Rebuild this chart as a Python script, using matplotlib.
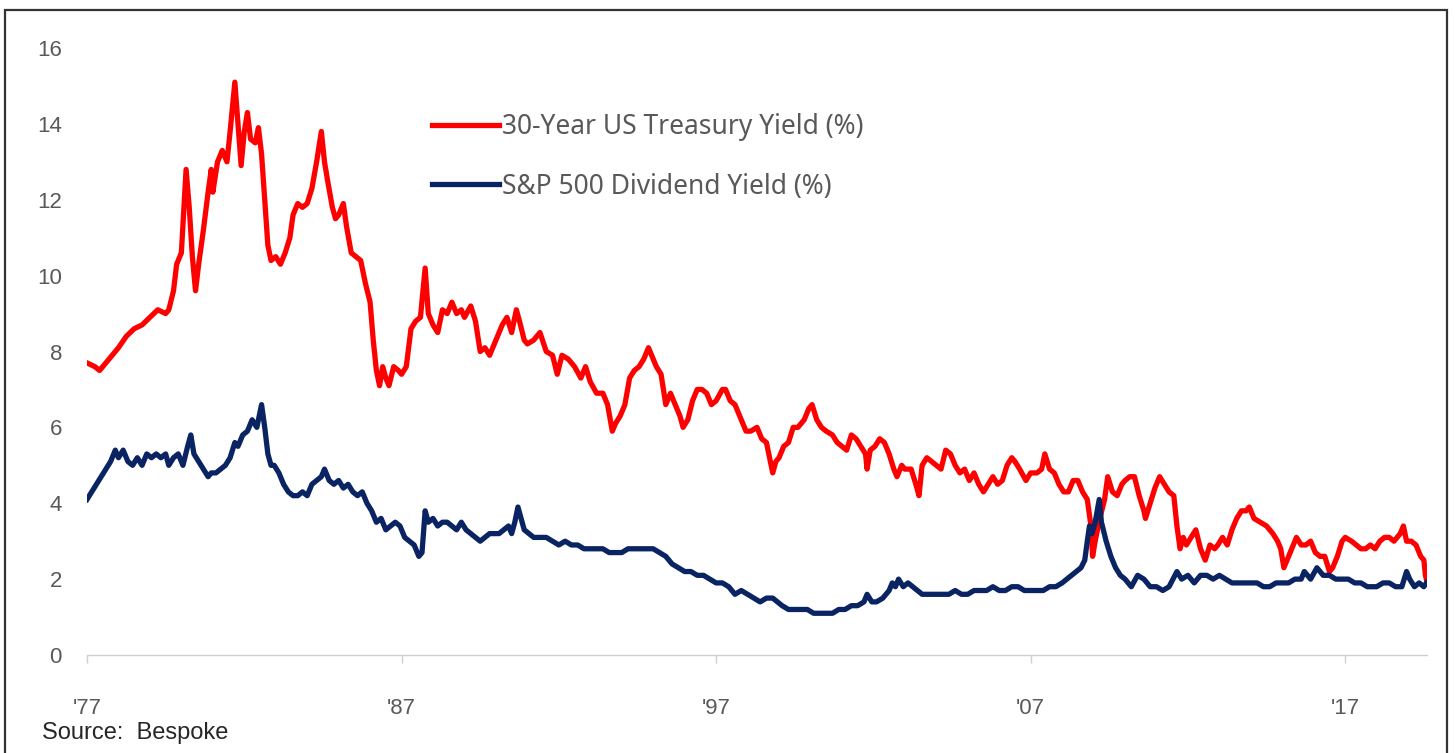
import matplotlib
matplotlib.use("Agg")
import matplotlib.pyplot as plt
from matplotlib.patches import Rectangle

# 30-year US Treasury yield (%) (decimal years)
treasury_dates = [
    1977.0, 1977.25, 1977.4, 1977.6, 1977.8, 1978.0, 1978.25, 1978.5, 1978.75, 1979.0,
    1979.25, 1979.5, 1979.6, 1979.75, 1979.85, 1980.0, 1980.15, 1980.25, 1980.35, 1980.45,
    1980.55, 1980.7, 1980.85, 1980.95, 1981.0, 1981.15, 1981.3, 1981.45, 1981.55, 1981.7,
    1981.8, 1981.9, 1982.0, 1982.1, 1982.2, 1982.35, 1982.45, 1982.55, 1982.65, 1982.75,
    1982.85, 1983.0, 1983.15, 1983.3, 1983.45, 1983.55, 1983.7, 1983.85, 1984.0, 1984.15,
    1984.3, 1984.45, 1984.55, 1984.65, 1984.8, 1984.9, 1985.0, 1985.15, 1985.25, 1985.4,
    1985.55, 1985.7, 1985.85, 1986.0, 1986.1, 1986.2, 1986.3, 1986.4, 1986.5, 1986.6,
    1986.75, 1986.9, 1987.0, 1987.15, 1987.3, 1987.45, 1987.6, 1987.75, 1987.85, 1988.0,
    1988.15, 1988.3, 1988.45, 1988.6, 1988.75, 1988.9, 1989.0, 1989.2, 1989.35, 1989.5,
    1989.65, 1989.8, 1990.0, 1990.2, 1990.35, 1990.5, 1990.65, 1990.75, 1990.9, 1991.0,
    1991.2, 1991.4, 1991.6, 1991.8, 1991.95, 1992.1, 1992.3, 1992.5, 1992.7, 1992.85,
    1993.0, 1993.2, 1993.4, 1993.55, 1993.7, 1993.8, 1993.95, 1994.1, 1994.25, 1994.4,
    1994.55, 1994.7, 1994.85, 1994.95, 1995.1, 1995.25, 1995.4, 1995.55, 1995.7, 1995.85,
    1995.95, 1996.1, 1996.25, 1996.4, 1996.55, 1996.7, 1996.85, 1997.0, 1997.2, 1997.3,
    1997.45, 1997.6, 1997.8, 1997.95, 1998.1, 1998.3, 1998.45, 1998.6, 1998.75, 1998.8,
    1998.9, 1999.0, 1999.15, 1999.3, 1999.45, 1999.6, 1999.8, 1999.95, 2000.05, 2000.2,
    2000.35, 2000.5, 2000.7, 2000.85, 2001.0, 2001.15, 2001.3, 2001.45, 2001.6, 2001.75,
    2001.8, 2001.9, 2002.05, 2002.2, 2002.35, 2002.5, 2002.65, 2002.75, 2002.9, 2003.0,
    2003.2, 2003.35, 2003.45, 2003.55, 2003.7, 2003.85, 2004.0, 2004.15, 2004.3, 2004.45,
    2004.6, 2004.75, 2004.9, 2005.05, 2005.2, 2005.35, 2005.5, 2005.65, 2005.8, 2005.95,
    2006.1, 2006.25, 2006.4, 2006.5, 2006.65, 2006.85, 2007.0, 2007.2, 2007.35, 2007.45,
    2007.6, 2007.75, 2007.9, 2008.05, 2008.2, 2008.35, 2008.5, 2008.65, 2008.8, 2008.9,
    2008.97, 2009.05, 2009.2, 2009.35, 2009.45, 2009.6, 2009.75, 2009.9, 2010.0, 2010.15,
    2010.3, 2010.45, 2010.6, 2010.65, 2010.8, 2010.95, 2011.1, 2011.25, 2011.4, 2011.55,
    2011.65, 2011.75, 2011.85, 2011.95, 2012.1, 2012.25, 2012.4, 2012.55, 2012.7, 2012.85,
    2012.95, 2013.1, 2013.25, 2013.4, 2013.55, 2013.7, 2013.85, 2013.95, 2014.1, 2014.3,
    2014.5, 2014.7, 2014.85, 2014.95, 2015.05, 2015.2, 2015.35, 2015.45, 2015.6, 2015.75,
    2015.9, 2016.05, 2016.2, 2016.35, 2016.5, 2016.6, 2016.75, 2016.9, 2017.0, 2017.2,
    2017.35, 2017.5, 2017.65, 2017.8, 2017.95, 2018.1, 2018.25, 2018.4, 2018.55, 2018.75,
    2018.85, 2018.95, 2019.1, 2019.25, 2019.4, 2019.5, 2019.55, 2019.58,
]
treasury_yield = [
    7.7, 7.6, 7.5, 7.7, 7.9, 8.1, 8.4, 8.6, 8.7, 8.9,
    9.1, 9.0, 9.1, 9.6, 10.3, 10.6, 12.8, 11.8, 10.5, 9.6,
    10.3, 11.2, 12.2, 12.8, 12.2, 13.0, 13.3, 13.0, 13.8, 15.1,
    14.0, 12.9, 13.8, 14.3, 13.6, 13.5, 13.9, 13.2, 12.0, 10.8,
    10.4, 10.5, 10.3, 10.6, 11.0, 11.6, 11.9, 11.8, 11.9, 12.3,
    13.0, 13.8, 13.0, 12.5, 11.8, 11.5, 11.6, 11.9, 11.3, 10.6,
    10.5, 10.4, 9.8, 9.3, 8.3, 7.5, 7.1, 7.6, 7.3, 7.1,
    7.6, 7.5, 7.4, 7.6, 8.6, 8.8, 8.9, 10.2, 9.0, 8.7,
    8.5, 9.1, 9.0, 9.3, 9.0, 9.1, 8.9, 9.2, 8.8, 8.0,
    8.1, 7.9, 8.3, 8.7, 8.9, 8.5, 9.1, 8.8, 8.3, 8.2,
    8.3, 8.5, 8.0, 7.9, 7.4, 7.9, 7.8, 7.6, 7.3, 7.6,
    7.2, 6.9, 6.9, 6.6, 5.9, 6.1, 6.3, 6.6, 7.3, 7.5,
    7.6, 7.8, 8.1, 7.9, 7.6, 7.4, 6.6, 6.9, 6.6, 6.3,
    6.0, 6.2, 6.7, 7.0, 7.0, 6.9, 6.6, 6.7, 7.0, 7.0,
    6.7, 6.6, 6.2, 5.9, 5.9, 6.0, 5.7, 5.6, 5.0, 4.8,
    5.1, 5.2, 5.5, 5.6, 6.0, 6.0, 6.2, 6.5, 6.6, 6.2,
    6.0, 5.9, 5.8, 5.6, 5.5, 5.4, 5.8, 5.7, 5.5, 5.3,
    4.9, 5.4, 5.5, 5.7, 5.6, 5.3, 4.9, 4.7, 5.0, 4.9,
    4.9, 4.5, 4.2, 5.0, 5.2, 5.1, 5.0, 4.9, 5.4, 5.3,
    5.0, 4.8, 4.9, 4.6, 4.8, 4.5, 4.3, 4.5, 4.7, 4.5,
    4.6, 5.0, 5.2, 5.1, 4.9, 4.6, 4.8, 4.8, 4.9, 5.3,
    4.9, 4.8, 4.5, 4.3, 4.3, 4.6, 4.6, 4.3, 4.1, 3.5,
    2.6, 3.0, 3.6, 4.1, 4.7, 4.3, 4.2, 4.5, 4.6, 4.7,
    4.7, 4.2, 3.8, 3.6, 4.0, 4.4, 4.7, 4.5, 4.3, 4.2,
    3.4, 2.8, 3.1, 2.9, 3.1, 3.3, 2.8, 2.5, 2.9, 2.8,
    2.9, 3.1, 2.9, 3.3, 3.6, 3.8, 3.8, 3.9, 3.6, 3.5,
    3.4, 3.2, 3.0, 2.8, 2.3, 2.6, 2.9, 3.1, 2.9, 2.9,
    3.0, 2.7, 2.6, 2.6, 2.2, 2.3, 2.6, 3.0, 3.1, 3.0,
    2.9, 2.8, 2.8, 2.9, 2.8, 3.0, 3.1, 3.1, 3.0, 3.2,
    3.4, 3.0, 3.0, 2.9, 2.6, 2.5, 2.1, 2.0,
]

# S&P 500 dividend yield (%)
dividend_dates = [
    1977.0, 1977.15, 1977.3, 1977.45, 1977.6, 1977.75, 1977.9, 1978.0, 1978.15, 1978.3,
    1978.45, 1978.6, 1978.75, 1978.9, 1979.05, 1979.2, 1979.35, 1979.5, 1979.6, 1979.75,
    1979.9, 1980.05, 1980.2, 1980.3, 1980.4, 1980.55, 1980.7, 1980.85, 1980.95, 1981.1,
    1981.25, 1981.4, 1981.55, 1981.7, 1981.8, 1981.95, 1982.1, 1982.25, 1982.4, 1982.55,
    1982.65, 1982.75, 1982.85, 1982.95, 1983.1, 1983.25, 1983.4, 1983.55, 1983.7, 1983.85,
    1984.0, 1984.15, 1984.3, 1984.45, 1984.55, 1984.7, 1984.85, 1985.0, 1985.15, 1985.3,
    1985.45, 1985.6, 1985.75, 1985.9, 1986.05, 1986.2, 1986.35, 1986.5, 1986.65, 1986.8,
    1986.95, 1987.1, 1987.25, 1987.4, 1987.55, 1987.65, 1987.75, 1987.85, 1988.0, 1988.15,
    1988.3, 1988.45, 1988.6, 1988.75, 1988.9, 1989.05, 1989.2, 1989.35, 1989.5, 1989.65,
    1989.8, 1989.95, 1990.1, 1990.25, 1990.4, 1990.5, 1990.6, 1990.7, 1990.8, 1990.9,
    1991.05, 1991.2, 1991.4, 1991.6, 1991.8, 1992.0, 1992.2, 1992.4, 1992.6, 1992.8,
    1993.0, 1993.2, 1993.4, 1993.6, 1993.8, 1994.0, 1994.2, 1994.4, 1994.6, 1994.8,
    1995.0, 1995.2, 1995.4, 1995.6, 1995.8, 1996.0, 1996.2, 1996.4, 1996.6, 1996.8,
    1997.0, 1997.2, 1997.4, 1997.6, 1997.8, 1998.0, 1998.2, 1998.4, 1998.6, 1998.8,
    1998.95, 1999.1, 1999.3, 1999.5, 1999.7, 1999.9, 2000.1, 2000.3, 2000.5, 2000.7,
    2000.9, 2001.1, 2001.3, 2001.5, 2001.7, 2001.8, 2001.95, 2002.1, 2002.3, 2002.5,
    2002.6, 2002.7, 2002.8, 2002.95, 2003.1, 2003.25, 2003.4, 2003.55, 2003.7, 2003.85,
    2004.0, 2004.2, 2004.4, 2004.6, 2004.8, 2005.0, 2005.2, 2005.4, 2005.6, 2005.8,
    2006.0, 2006.2, 2006.4, 2006.6, 2006.8, 2007.0, 2007.2, 2007.4, 2007.6, 2007.8,
    2008.0, 2008.15, 2008.3, 2008.45, 2008.6, 2008.72, 2008.8, 2008.87, 2008.95, 2009.05,
    2009.18, 2009.25, 2009.4, 2009.55, 2009.7, 2009.85, 2010.0, 2010.2, 2010.4, 2010.6,
    2010.8, 2011.0, 2011.2, 2011.4, 2011.65, 2011.8, 2012.0, 2012.2, 2012.4, 2012.6,
    2012.8, 2013.0, 2013.2, 2013.4, 2013.6, 2013.8, 2014.0, 2014.2, 2014.4, 2014.6,
    2014.8, 2015.0, 2015.2, 2015.4, 2015.6, 2015.7, 2015.9, 2016.1, 2016.3, 2016.5,
    2016.7, 2016.9, 2017.1, 2017.3, 2017.5, 2017.7, 2017.9, 2018.0, 2018.2, 2018.4,
    2018.6, 2018.8, 2018.95, 2019.05, 2019.2, 2019.35, 2019.5, 2019.58,
]
dividend_yield = [
    4.1, 4.3, 4.5, 4.7, 4.9, 5.1, 5.4, 5.2, 5.4, 5.1,
    5.0, 5.2, 5.0, 5.3, 5.2, 5.3, 5.2, 5.3, 5.0, 5.2,
    5.3, 5.0, 5.5, 5.8, 5.3, 5.1, 4.9, 4.7, 4.8, 4.8,
    4.9, 5.0, 5.2, 5.6, 5.5, 5.8, 5.9, 6.2, 6.0, 6.6,
    6.0, 5.3, 5.0, 5.0, 4.8, 4.5, 4.3, 4.2, 4.2, 4.3,
    4.2, 4.5, 4.6, 4.7, 4.9, 4.6, 4.5, 4.6, 4.4, 4.5,
    4.3, 4.2, 4.3, 4.0, 3.8, 3.5, 3.6, 3.3, 3.4, 3.5,
    3.4, 3.1, 3.0, 2.9, 2.6, 2.7, 3.8, 3.5, 3.6, 3.4,
    3.5, 3.5, 3.4, 3.3, 3.5, 3.3, 3.2, 3.1, 3.0, 3.1,
    3.2, 3.2, 3.2, 3.3, 3.4, 3.2, 3.5, 3.9, 3.6, 3.3,
    3.2, 3.1, 3.1, 3.1, 3.0, 2.9, 3.0, 2.9, 2.9, 2.8,
    2.8, 2.8, 2.8, 2.7, 2.7, 2.7, 2.8, 2.8, 2.8, 2.8,
    2.8, 2.7, 2.6, 2.4, 2.3, 2.2, 2.2, 2.1, 2.1, 2.0,
    1.9, 1.9, 1.8, 1.6, 1.7, 1.6, 1.5, 1.4, 1.5, 1.5,
    1.4, 1.3, 1.2, 1.2, 1.2, 1.2, 1.1, 1.1, 1.1, 1.1,
    1.2, 1.2, 1.3, 1.3, 1.4, 1.6, 1.4, 1.4, 1.5, 1.7,
    1.9, 1.8, 2.0, 1.8, 1.9, 1.8, 1.7, 1.6, 1.6, 1.6,
    1.6, 1.6, 1.6, 1.7, 1.6, 1.6, 1.7, 1.7, 1.7, 1.8,
    1.7, 1.7, 1.8, 1.8, 1.7, 1.7, 1.7, 1.7, 1.8, 1.8,
    1.9, 2.0, 2.1, 2.2, 2.3, 2.5, 3.0, 3.4, 3.2, 3.5,
    4.1, 3.5, 3.0, 2.6, 2.3, 2.1, 2.0, 1.8, 2.1, 2.0,
    1.8, 1.8, 1.7, 1.8, 2.2, 2.0, 2.1, 1.9, 2.1, 2.1,
    2.0, 2.1, 2.0, 1.9, 1.9, 1.9, 1.9, 1.9, 1.8, 1.8,
    1.9, 1.9, 1.9, 2.0, 2.0, 2.2, 2.0, 2.3, 2.1, 2.1,
    2.0, 2.0, 2.0, 1.9, 1.9, 1.8, 1.8, 1.8, 1.9, 1.9,
    1.8, 1.8, 2.2, 2.0, 1.8, 1.9, 1.8, 1.9,
]

year_ticks = [1977, 1987, 1997, 2007, 2017]
year_labels = ["'77", "'87", "'97", "'07", "'17"]
y_ticks = [0, 2, 4, 6, 8, 10, 12, 14, 16]

RED = "#ff0000"
NAVY = "#0a2463"
GRAY = "#595959"

fig = plt.figure(figsize=(14.55, 7.53), dpi=100)
ax = fig.add_axes([87 / 1455, 98 / 753, 1340 / 1455, 607 / 753])

ax.plot(treasury_dates, treasury_yield, color=RED, lw=3.8,
        label="30-Year US Treasury Yield (%)", solid_joinstyle="round")
ax.plot(dividend_dates, dividend_yield, color=NAVY, lw=3.8,
        label="S&P 500 Dividend Yield (%)", solid_joinstyle="round")

ax.set_xlim(1977, 2019.6)
ax.set_ylim(0, 16)
ax.set_yticks(y_ticks)
ax.set_yticklabels([str(v) for v in y_ticks], fontfamily="Liberation Sans",
                   fontsize=16, color=GRAY)
ax.set_xticks(year_ticks)
ax.set_xticklabels(year_labels, fontfamily="Liberation Sans",
                   fontsize=16, color=GRAY)
ax.tick_params(axis="y", length=0, pad=18)
ax.tick_params(axis="x", length=6, width=1, color="#d0d0d0", pad=25)

for side in ["top", "right", "left"]:
    ax.spines[side].set_visible(False)
ax.spines["bottom"].set_color("#d0d0d0")
ax.spines["bottom"].set_linewidth(1)

leg = ax.legend(loc="upper left", bbox_to_anchor=(0.2575, 0.893),
                frameon=False, borderpad=0, borderaxespad=0,
                handlelength=2.55, handletextpad=0.1, labelspacing=1.2,
                prop={"family": "Noto Sans", "size": 19})
for text in leg.get_texts():
    text.set_color(GRAY)

fig.text(42 / 1455, 20 / 753, "Source:  Bespoke", fontfamily="Liberation Sans",
         fontsize=17, color="#262626", va="center", ha="left")

# outer frame of the original graphic (bottom edge runs off the image)
fig.patches.append(Rectangle((5 / 1455, -0.1), 1442 / 1455, 1.1 - 10 / 753,
                             transform=fig.transFigure, fill=False,
                             edgecolor="#333333", lw=1.6))

fig.savefig("out.png", dpi=100)
